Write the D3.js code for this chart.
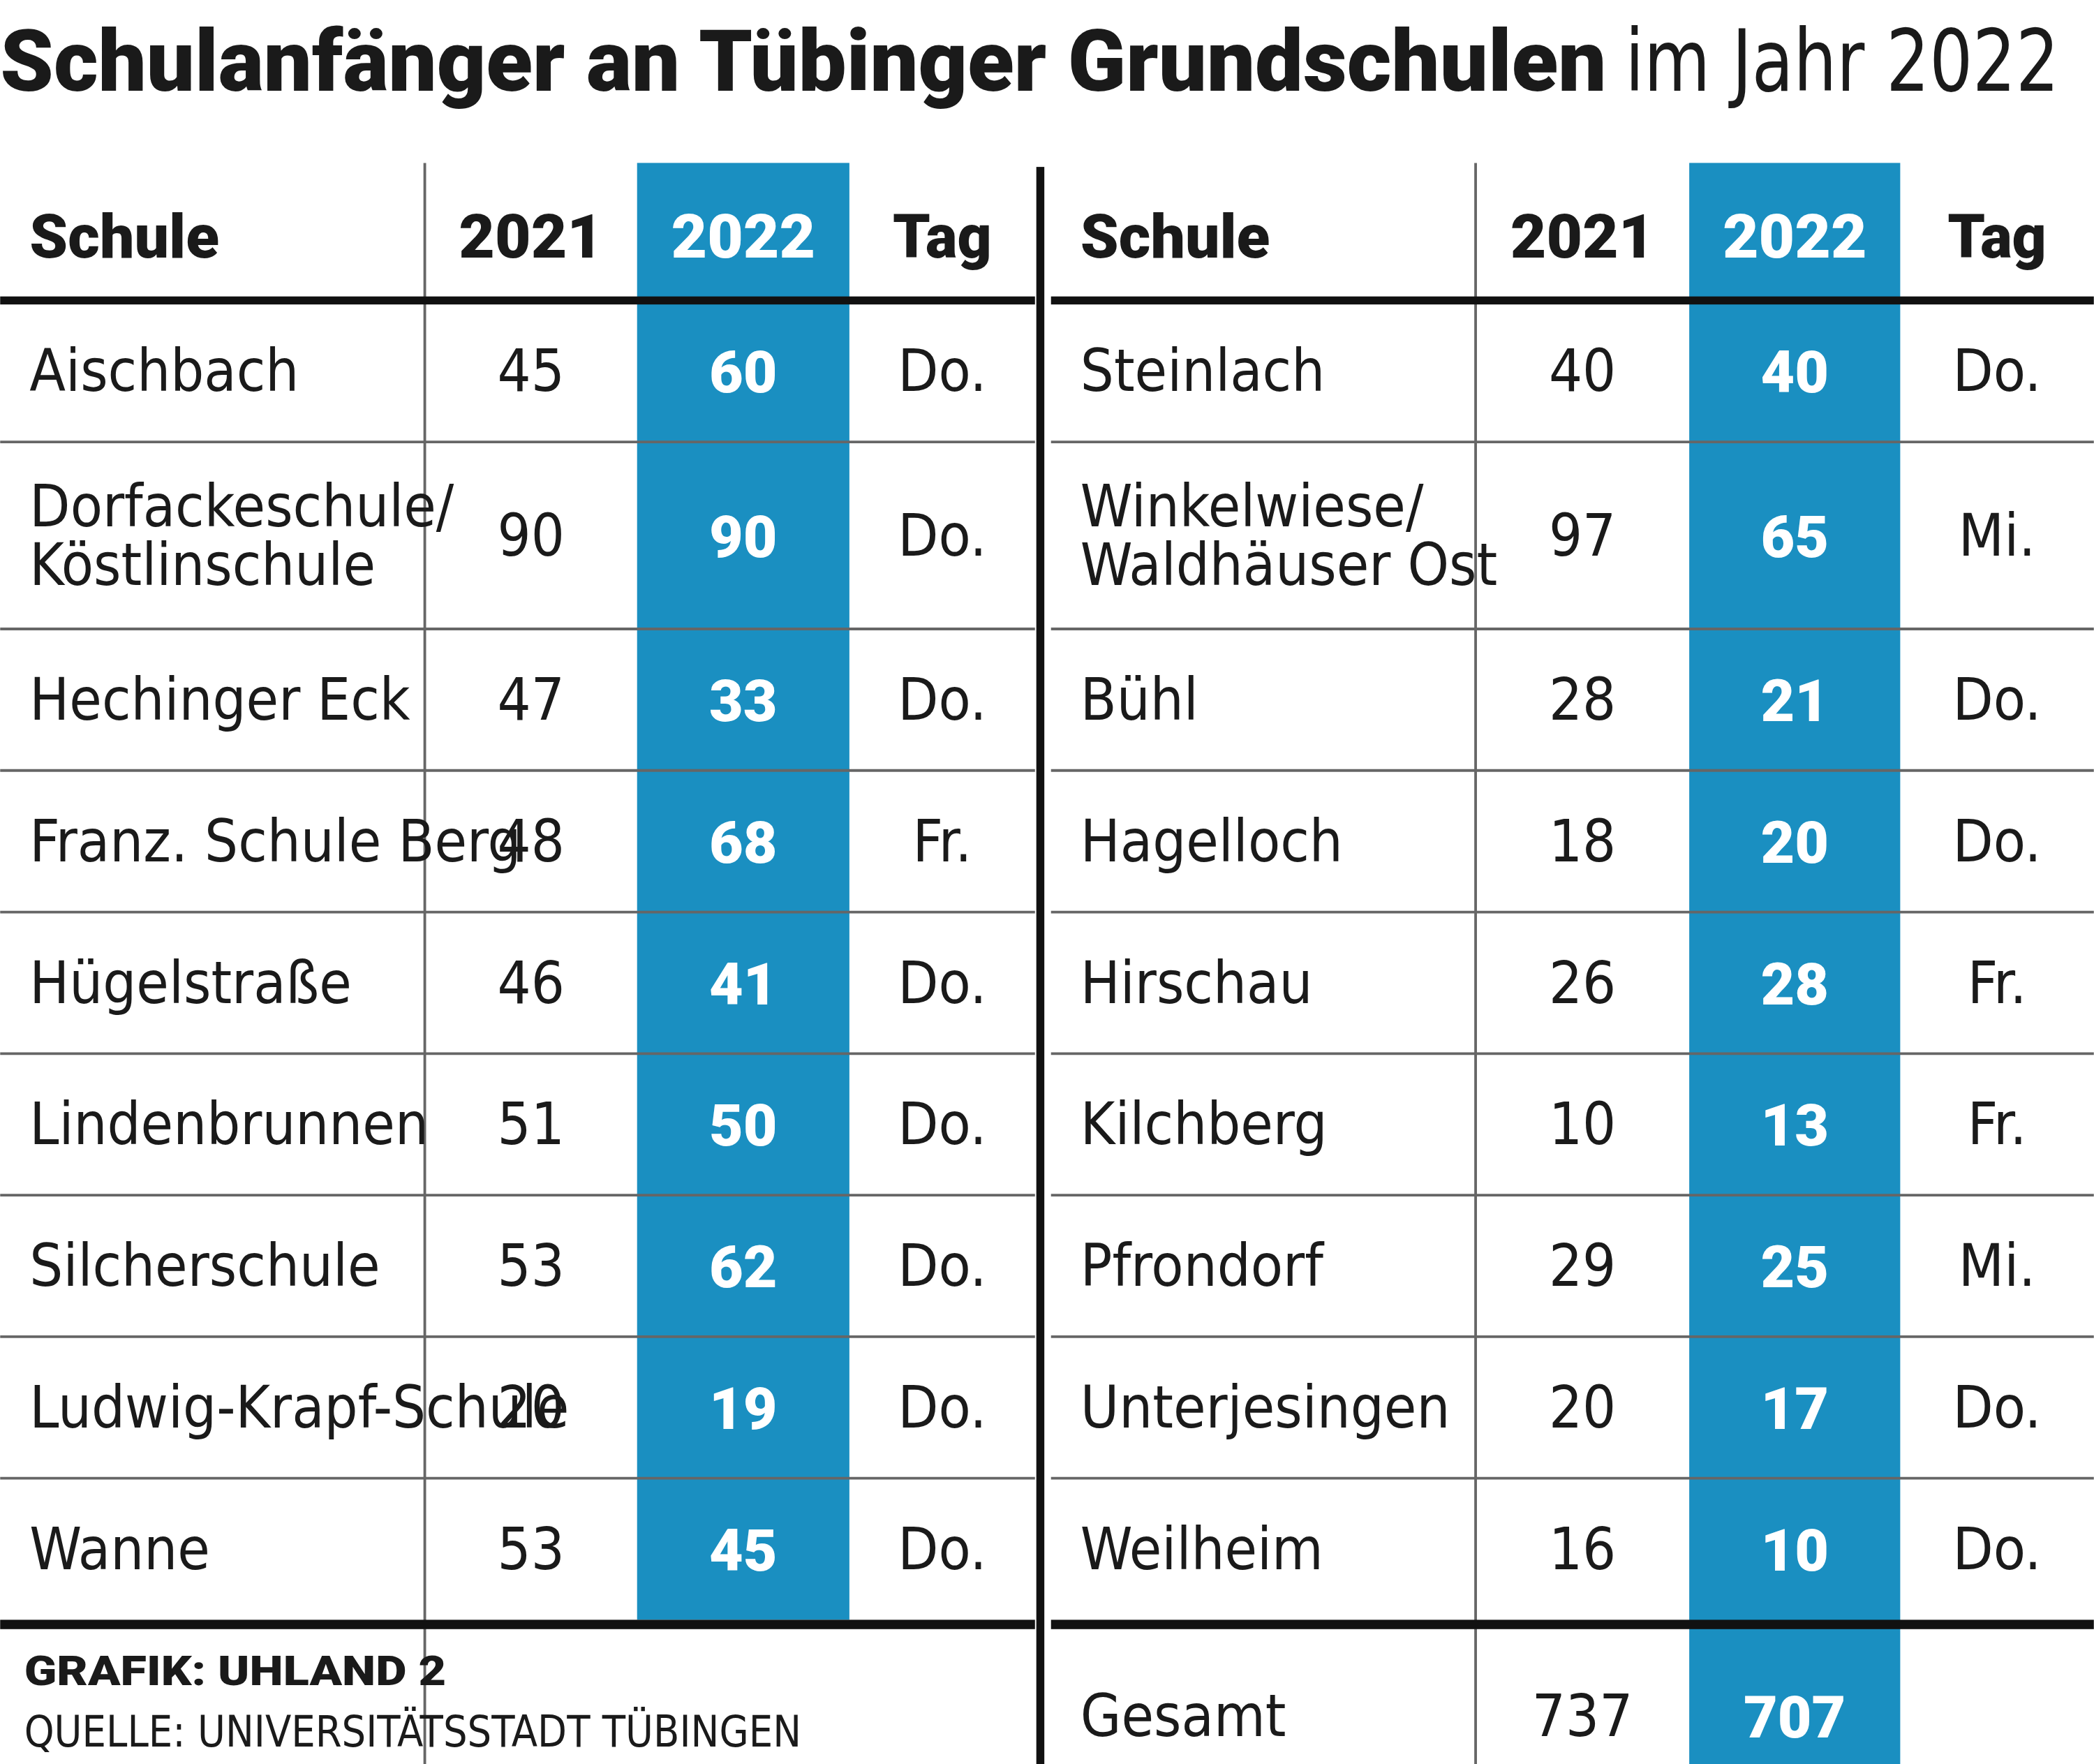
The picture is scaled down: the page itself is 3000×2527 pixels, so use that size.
<!DOCTYPE html>
<html><head><meta charset="utf-8">
<script src="https://cdn.jsdelivr.net/npm/d3@7"></script>
<style>html,body{margin:0;background:#fff}</style>
</head><body>
<svg id="c" width="3000" height="2527" viewBox="0 0 1568 1321"></svg>
<script>
const leftSchools = [["Aischbach"], ["Dorfackeschule/", "Köstlinschule"], ["Hechinger Eck"], ["Franz. Schule Berg"], ["Hügelstraße"], ["Lindenbrunnen"], ["Silcherschule"], ["Ludwig-Krapf-Schule"], ["Wanne"]];
const left2021 = [45, 90, 47, 48, 46, 51, 53, 20, 53];
const left2022 = [60, 90, 33, 68, 41, 50, 62, 19, 45];
const leftTag = ["Do.", "Do.", "Do.", "Fr.", "Do.", "Do.", "Do.", "Do.", "Do."];
const rightSchools = [["Steinlach"], ["Winkelwiese/", "Waldhäuser Ost"], ["Bühl"], ["Hagelloch"], ["Hirschau"], ["Kilchberg"], ["Pfrondorf"], ["Unterjesingen"], ["Weilheim"]];
const right2021 = [40, 97, 28, 18, 26, 10, 29, 20, 16];
const right2022 = [40, 65, 21, 20, 28, 13, 25, 17, 10];
const rightTag = ["Do.", "Mi.", "Do.", "Do.", "Fr.", "Fr.", "Mi.", "Do.", "Do."];
const headers = ["Schule", "2021", "2022", "Tag"];
const total = {label: "Gesamt", y2021: 737, y2022: 707};

const svg = d3.select("#c");
const blue = "#1a8fc1";
const bodyFont = "'Liberation Sans Narrow','DejaVu Sans Condensed',sans-serif";
const boldFont = "Roboto, 'DejaVu Sans', sans-serif";

// row layout: two-line rows are taller
const rowH = leftSchools.map(d => d.length > 1 ? 140 : 106);
const tableTop = 225;
const edges = [tableTop];
rowH.forEach(h => edges.push(edges[edges.length - 1] + h));
const rowMid = i => (edges[i] + edges[i + 1]) / 2;

const halves = [
  {cols: [0, 318, 477, 636, 775], schools: leftSchools, a: left2021, b: left2022, tag: leftTag},
  {cols: [787, 1105, 1265, 1423, 1568], schools: rightSchools, a: right2021, b: right2022, tag: rightTag}
];
const bottom = edges[edges.length - 1];

svg.append("text").attr("x", 0).attr("y", 68).attr("font-family", boldFont).attr("font-weight", 900)
  .attr("font-size", 64).attr("textLength", 1203).attr("lengthAdjust", "spacingAndGlyphs").attr("fill", "#1a1a1a")
  .text("Schulanfänger an Tübinger Grundschulen");
svg.append("text").attr("x", 1217).attr("y", 68).attr("font-family", bodyFont)
  .attr("font-size", 64).attr("textLength", 325).attr("lengthAdjust", "spacingAndGlyphs").attr("fill", "#1a1a1a")
  .text("im Jahr 2022");

halves.forEach((h, hi) => {
  const c = h.cols;
  const cx = k => (c[k] + c[k + 1]) / 2;
  svg.append("rect").attr("x", c[2]).attr("y", 122).attr("width", c[3] - c[2])
    .attr("height", (hi ? 1321 : bottom) - 122).attr("fill", blue);
  svg.append("line").attr("x1", c[1]).attr("x2", c[1]).attr("y1", 122).attr("y2", 1321)
    .attr("stroke", "#666").attr("stroke-width", 2);
  edges.slice(1, -1).forEach(e => svg.append("line").attr("x1", c[0]).attr("x2", c[4])
    .attr("y1", e).attr("y2", e).attr("stroke", "#666").attr("stroke-width", 2));
  headers.forEach((t, k) => svg.append("text")
    .attr("x", k === 0 ? c[0] + 22 : cx(k)).attr("y", 193)
    .attr("text-anchor", k === 0 ? "start" : "middle")
    .attr("font-family", boldFont).attr("font-weight", 900).attr("font-size", 46)
    .attr("fill", k === 2 ? "#fff" : "#1a1a1a")
    .attr("textLength", k === 0 ? 142 : (k === 3 ? 74 : 108)).attr("lengthAdjust", "spacingAndGlyphs")
    .text(t));
  h.schools.forEach((s, i) => {
    const m = rowMid(i);
    s.forEach((line, li) => svg.append("text").attr("x", c[0] + 22)
      .attr("y", m + 15 + (li - (s.length - 1) / 2) * 44)
      .attr("font-family", bodyFont).attr("font-size", 44).attr("fill", "#1a1a1a").text(line));
    svg.append("text").attr("x", cx(1)).attr("y", m + 15).attr("text-anchor", "middle")
      .attr("font-family", bodyFont).attr("font-size", 44).attr("fill", "#1a1a1a").text(h.a[i]);
    svg.append("text").attr("x", cx(2)).attr("y", m + 16).attr("text-anchor", "middle")
      .attr("font-family", boldFont).attr("font-weight", 900).attr("font-size", 44).attr("fill", "#fff").text(h.b[i]);
    svg.append("text").attr("x", cx(3)).attr("y", m + 15).attr("text-anchor", "middle")
      .attr("font-family", bodyFont).attr("font-size", 44).attr("fill", "#1a1a1a").text(h.tag[i]);
  });
  svg.append("rect").attr("x", c[0]).attr("y", 222).attr("width", c[4] - c[0]).attr("height", 6).attr("fill", "#111");
  svg.append("rect").attr("x", c[0]).attr("y", bottom).attr("width", c[4] - c[0]).attr("height", 7).attr("fill", "#111");
  if (hi === 1) {
    const m = 1285;
    svg.append("text").attr("x", c[0] + 22).attr("y", m + 15).attr("font-family", bodyFont).attr("font-size", 44).attr("fill", "#1a1a1a").text(total.label);
    svg.append("text").attr("x", cx(1)).attr("y", m + 15).attr("text-anchor", "middle").attr("font-family", bodyFont).attr("font-size", 44).attr("fill", "#1a1a1a").text(total.y2021);
    svg.append("text").attr("x", cx(2)).attr("y", m + 16).attr("text-anchor", "middle").attr("font-family", boldFont).attr("font-weight", 900).attr("font-size", 44).attr("fill", "#fff").text(total.y2022);
  }
});
svg.append("rect").attr("x", 776).attr("y", 125).attr("width", 6).attr("height", 1196).attr("fill", "#111");
svg.append("text").attr("x", 18).attr("y", 1262).attr("font-family", boldFont).attr("font-weight", 900)
  .attr("font-size", 31).attr("fill", "#1a1a1a").attr("textLength", 316).attr("lengthAdjust", "spacingAndGlyphs").text("GRAFIK: UHLAND 2");
svg.append("text").attr("x", 18).attr("y", 1308).attr("font-family", bodyFont)
  .attr("font-size", 33).attr("fill", "#1a1a1a").attr("textLength", 582).attr("lengthAdjust", "spacingAndGlyphs").text("QUELLE: UNIVERSITÄTSSTADT TÜBINGEN");
</script>
</body></html>
